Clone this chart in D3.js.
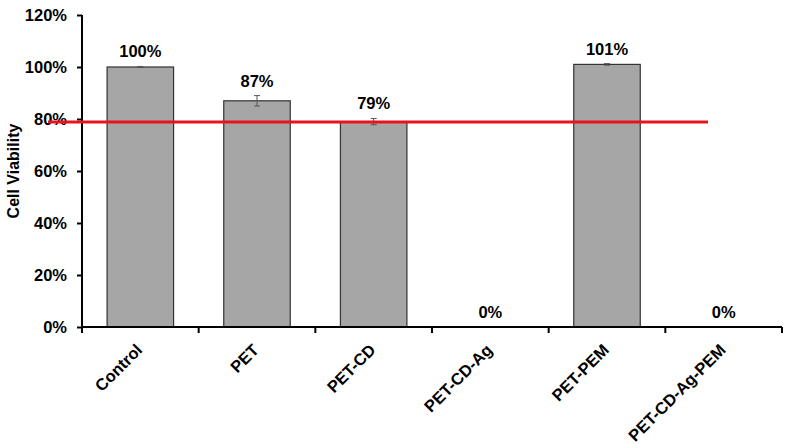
<!DOCTYPE html>
<html><head><meta charset="utf-8">
<script src="https://cdn.jsdelivr.net/npm/d3@7/dist/d3.min.js"></script>
<style>body{margin:0;background:#fff}svg{display:block;font-family:"Liberation Sans",Arial,sans-serif}</style>
</head><body><svg id="c" width="787" height="448"></svg>
<script>
const categories = ["Control","PET","PET-CD","PET-CD-Ag","PET-PEM","PET-CD-Ag-PEM"];
const values = [100,87,79,0,101,0];
const errors = [0.2,2,1.2,0,0.3,0];
const labels = ["100%","87%","79%","0%","101%","0%"];
const yTicks = [0,20,40,60,80,100,120];
const threshold = 78.8;

const svg = d3.select("#c");
const m = {l:82,r:5,t:15,b:121};
const x = d3.scaleBand().domain(categories).range([m.l,782]).paddingInner(0.43).paddingOuter(0.215);
const y = d3.scaleLinear().domain([0,120]).range([327,15]);
const FS = 16.5;

// bars
svg.selectAll("rect.bar").data(categories).join("rect")
  .attr("x",d=>x(d)).attr("width",x.bandwidth())
  .attr("y",(d,i)=>y(values[i])).attr("height",(d,i)=>y(0)-y(values[i]))
  .attr("fill","#a6a6a6").attr("stroke","#333").attr("stroke-width",1.2);

// error bars
const eg = svg.append("g").attr("stroke","#555").attr("stroke-width",1);
categories.forEach((c,i)=>{
  if(!errors[i]) return;
  const cx = x(c)+x.bandwidth()/2;
  eg.append("line").attr("x1",cx).attr("x2",cx).attr("y1",y(values[i]+errors[i])).attr("y2",y(values[i]-errors[i]));
  eg.append("line").attr("x1",cx-3).attr("x2",cx+3).attr("y1",y(values[i]+errors[i])).attr("y2",y(values[i]+errors[i]));
  eg.append("line").attr("x1",cx-3).attr("x2",cx+3).attr("y1",y(values[i]-errors[i])).attr("y2",y(values[i]-errors[i]));
});

// y axis
const ya = svg.append("g").attr("transform",`translate(${m.l},0)`)
  .call(d3.axisLeft(y).tickValues(yTicks).tickFormat(d=>d+"%").tickSize(5).tickPadding(10));
ya.select(".domain").attr("stroke","#000").attr("stroke-width",2).attr("d",`M0,${y(120)}V${y(0)}`);
ya.selectAll(".tick line").attr("stroke","#000").attr("stroke-width",2);
ya.selectAll(".tick text").attr("font-size",FS).attr("font-weight","bold").attr("fill","#000").attr("font-family","Liberation Sans, Arial, sans-serif");

// x axis
const xa = svg.append("g").attr("transform",`translate(0,${y(0)})`)
  .call(d3.axisBottom(x).tickSize(0).tickFormat(""));
xa.select(".domain").attr("stroke","#000").attr("stroke-width",2).attr("d",`M${m.l},0H782`);
const step = x.step();
const bounds = d3.range(categories.length+1).map(i=>m.l+i*step);
xa.selectAll("line.bt").data(bounds).join("line").attr("class","bt")
  .attr("x1",d=>d).attr("x2",d=>d).attr("y1",0).attr("y2",6).attr("stroke","#000").attr("stroke-width",2);

// x labels
svg.append("g").selectAll("text").data(categories).join("text")
  .attr("transform",d=>`translate(${x(d)+x.bandwidth()/2+3},${y(0)+24}) rotate(-45)`)
  .attr("text-anchor","end").attr("font-size",FS).attr("font-weight","bold").attr("fill","#000")
  .text(d=>d);

// data labels
svg.append("g").selectAll("text").data(categories).join("text")
  .attr("x",d=>x(d)+x.bandwidth()/2)
  .attr("y",(d,i)=>y(values[i]+errors[i])-9)
  .attr("text-anchor","middle").attr("font-size",FS).attr("font-weight","bold").attr("fill","#000")
  .text((d,i)=>labels[i]);

// threshold line
svg.append("line").attr("x1",48).attr("x2",708).attr("y1",y(threshold)).attr("y2",y(threshold))
  .attr("stroke","#e8141c").attr("stroke-width",3);

// y title
svg.append("text").attr("transform",`translate(19,171) rotate(-90)`).attr("text-anchor","middle")
  .attr("font-size",16).attr("font-weight","bold").attr("fill","#000").text("Cell Viability");
</script></body></html>
